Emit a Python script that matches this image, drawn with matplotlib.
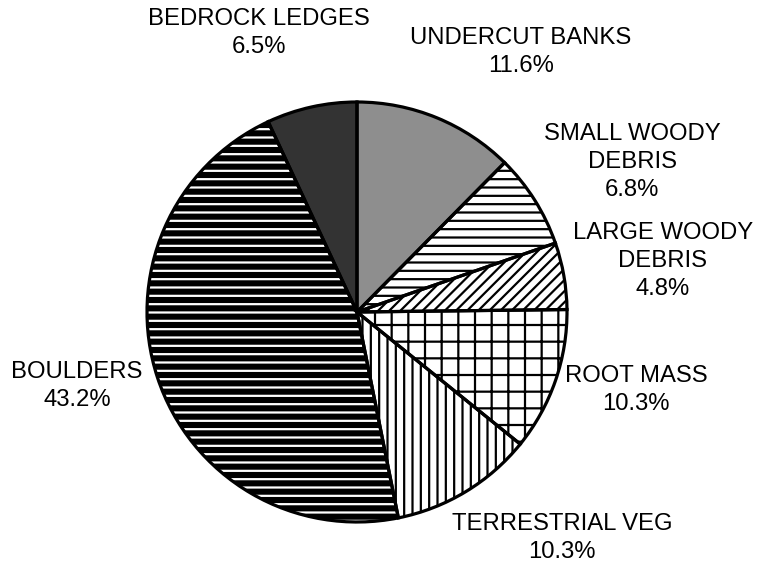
import numpy as np
import matplotlib
matplotlib.use("Agg")
import matplotlib.pyplot as plt

plt.rcParams['font.family'] = ['Liberation Sans', 'DejaVu Sans']
plt.rcParams['hatch.linewidth'] = 1.6

# habitat cover types, clockwise from the top
names = ["UNDERCUT BANKS", "SMALL WOODY\nDEBRIS", "LARGE WOODY\nDEBRIS",
         "ROOT MASS", "TERRESTRIAL VEG", "BOULDERS", "BEDROCK LEDGES"]
pcts = [11.6, 6.8, 4.8, 10.3, 10.3, 43.2, 6.5]

faces = ['#8e8e8e', 'white', 'white', 'white', 'white', 'black', '#333333']
hatches = [None, '--', '///', '+', '||', '--', None]
hatch_cols = ['black', 'black', 'black', 'black', 'black', 'white', 'black']

# label centres in pixel coords (from top-left)
label_xy = [(521, 52), (632, 162), (663, 261), (636, 390),
            (562, 538), (77, 386), (259, 33)]

W, H = 758, 567
fig = plt.figure(figsize=(W / 100, H / 100), dpi=100)
ax = fig.add_axes([0, 0, 1, 1])

cx, cy, r = 357, H - 312, 210

# fill + hatch pass (hatch takes the edge colour)
wedges, _ = ax.pie(pcts, startangle=90, counterclock=False, center=(cx, cy),
                   radius=r, frame=True)
for w, fc, h, hc in zip(wedges, faces, hatches, hatch_cols):
    w.set_facecolor(fc)
    w.set_hatch(h)
    w.set_edgecolor(hc)
    w.set_linewidth(0)

# outline pass
outl, _ = ax.pie(pcts, startangle=90, counterclock=False, center=(cx, cy),
                 radius=r, frame=True,
                 wedgeprops=dict(facecolor='none', edgecolor='black', linewidth=2.3))

ax.set_xlim(0, W)
ax.set_ylim(0, H)
ax.set_aspect('equal')
ax.axis('off')

for name, p, (lx, ly) in zip(names, pcts, label_xy):
    ax.text(lx, H - ly, f"{name}\n{p:.1f}%", ha='center', va='center',
            fontsize=17.2, linespacing=1.35)

fig.savefig("out.png", dpi=100)
